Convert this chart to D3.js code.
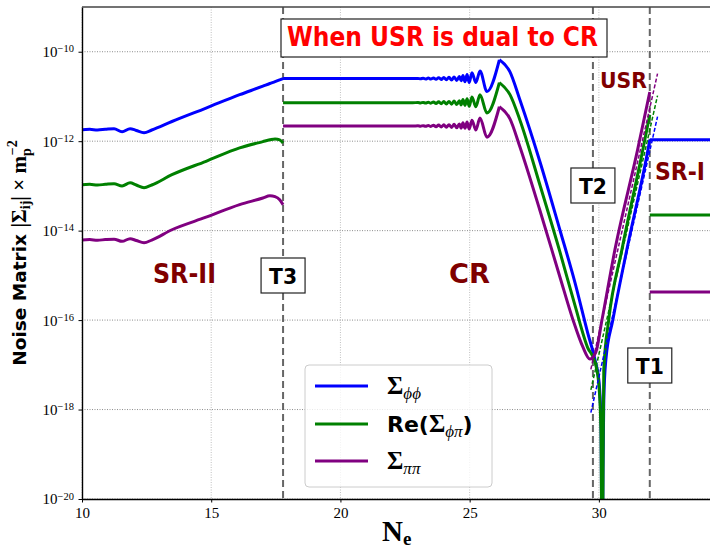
<!DOCTYPE html>
<html>
<head>
<meta charset="utf-8">
<script src="https://cdn.jsdelivr.net/npm/d3@7"></script>
<style>
  body { margin: 0; background: #fff; }
  .tick text { font-family: "Liberation Serif", serif; font-size: 15px; fill: #000; }
</style>
</head>
<body>
<div id="chart"></div>
<script>
// N_e values and log10 |Sigma|

// SR-II (before T3)
const srIIN       = [10, 10.3, 10.6, 10.9, 11.24, 11.55, 11.86, 12.1, 12.4, 12.7, 13.48, 14.8, 16.1, 17.0, 17.27, 17.47, 17.65, 17.78];
const srIIPhiPhi  = [-11.745, -11.735, -11.75, -11.735, -11.72, -11.79, -11.72, -11.76, -11.81, -11.75, -11.56, -11.26, -10.96, -10.77, -10.71, -10.67, -10.63, -10.60];
const srIIRePhiPi = [-12.975, -12.965, -12.98, -12.965, -12.95, -13.0, -12.93, -12.98, -13.04, -12.98, -12.75, -12.45, -12.15, -12.01, -11.97, -11.95, -11.97, -12.04];
const srIIPiPi    = [-14.21, -14.2, -14.215, -14.2, -14.19, -14.24, -14.18, -14.22, -14.27, -14.21, -13.98, -13.7, -13.42, -13.27, -13.22, -13.24, -13.31, -13.42];

// CR plateau with the growing oscillations
const crN = [17.78, 20, 22.8, 23.0, 23.1, 23.2, 23.3, 23.4, 23.5, 23.6, 23.7, 23.8, 23.9, 24.0, 24.1, 24.2, 24.3, 24.4, 24.5, 24.6,
             24.67, 24.74, 24.82, 24.9, 24.98, 25.09, 25.24, 25.4, 25.67, 26.15];
const crPhiPhi  = [-10.60, -10.60, -10.60, -10.596, -10.605, -10.593, -10.608, -10.59, -10.61, -10.585, -10.617, -10.58, -10.622, -10.575, -10.628, -10.57, -10.634, -10.563, -10.642, -10.555,
                   -10.65, -10.53, -10.67, -10.51, -10.69, -10.47, -10.69, -10.43, -10.89, -10.18];
const crRePhiPi = [-11.14, -11.14, -11.14, -11.136, -11.145, -11.133, -11.148, -11.13, -11.15, -11.125, -11.157, -11.12, -11.162, -11.115, -11.168, -11.11, -11.174, -11.103, -11.182, -11.095,
                   -11.19, -11.07, -11.2, -11.05, -11.22, -11.01, -11.23, -10.96, -11.37, -10.69];
const crPiPi    = [-11.66, -11.66, -11.66, -11.656, -11.665, -11.653, -11.668, -11.65, -11.67, -11.645, -11.677, -11.64, -11.682, -11.635, -11.688, -11.63, -11.694, -11.623, -11.702, -11.615,
                   -11.71, -11.59, -11.71, -11.57, -11.73, -11.53, -11.75, -11.48, -11.91, -11.23];

// fall through T2 and rise in the USR up to T1
const phiPhiTailN  = [26.15, 26.56, 26.94, 27.72, 28.49, 29.07, 29.57, 29.85, 30.0, 30.08, 30.13, 30.16, 30.19, 30.27, 30.54, 31.08, 31.9, 31.97];
const phiPhiTail   = [-10.18, -10.45, -11.07, -12.46, -13.98, -15.15, -16.29, -16.89, -17.34, -18.23, -22, -19.3, -17.79, -16.89, -16.0, -14.43, -12.19, -11.97];
const rePhiPiTailN = [26.15, 26.56, 26.94, 27.72, 28.49, 29.07, 29.57, 29.85, 30.0, 30.08, 30.13, 30.16, 30.19, 30.38, 30.89, 31.7, 31.97];
const rePhiPiTail  = [-10.69, -10.96, -11.52, -12.98, -14.47, -15.66, -16.62, -16.94, -17.45, -18.46, -22, -19.5, -17.11, -16.0, -14.43, -12.19, -11.41];
const piPiTailN    = [26.15, 26.56, 26.94, 27.72, 28.49, 28.99, 29.38, 29.65, 29.88, 30.12, 30.62, 31.5, 31.97];
const piPiTail     = [-11.23, -11.5, -12.12, -13.55, -15.03, -15.98, -16.6, -16.87, -16.72, -16.0, -14.43, -12.19, -10.9];

// analytic USR estimates (thin dashed)
const dashN         = [29.69, 32.27];
const phiPhiDash    = [-18.07, -11.45];
const rePhiPiDash   = [-17.56, -10.98];
const piPiDash      = [-17.1, -10.49];

// SR-I (after T1)
const srIN       = [31.97, 34.3];
const srIPhiPhi  = [-11.97, -11.97];
const srIRePhiPi = [-13.65, -13.65];
const srIPiPi    = [-15.37, -15.37];

const transitions = [17.78, 29.77, 31.97]; // T3, T2, T1
const xTicks = [10, 15, 20, 25, 30];
const yTickExps = [-20, -18, -16, -14, -12, -10];

let margin = { top: 7, left: 82, right: 0, bottom: 51 },
    width = 710 - margin.left - margin.right,
    height = 550 - margin.top - margin.bottom;

let svg = d3.select("#chart")
  .append("svg")
    .attr("width", 710)
    .attr("height", 550);

let g = svg.append("g")
    .attr("transform", "translate(" + margin.left + "," + margin.top + ")");

let xScale = d3.scaleLinear().domain([10, 34.3]).range([0, width]);
let yScale = d3.scaleLog().domain([1e-20, 1e-9]).range([height, 0]);

g.append("clipPath").attr("id", "plot")
  .append("rect").attr("width", width).attr("height", height);

// grid
g.append("g").selectAll("line").data(xTicks).enter().append("line")
    .attr("x1", d => xScale(d)).attr("x2", d => xScale(d))
    .attr("y1", 0).attr("y2", height)
    .attr("stroke", "#b0b0b0").attr("stroke-width", 0.8).attr("stroke-dasharray", "1,1.5");
g.append("g").selectAll("line").data(yTickExps).enter().append("line")
    .attr("x1", 0).attr("x2", width)
    .attr("y1", d => yScale(Math.pow(10, d))).attr("y2", d => yScale(Math.pow(10, d)))
    .attr("stroke", "#707070").attr("stroke-width", 0.8).attr("stroke-dasharray", "1,1.5");

// transition lines
g.append("g").selectAll("line").data(transitions).enter().append("line")
    .attr("x1", d => xScale(d)).attr("x2", d => xScale(d))
    .attr("y1", 0).attr("y2", height)
    .attr("stroke", "#666").attr("stroke-width", 2).attr("stroke-dasharray", "7,4");

let line = d3.line()
    .x(d => xScale(d[0]))
    .y(d => yScale(Math.pow(10, d[1])))
    .curve(d3.curveMonotoneX);

let dashLine = d3.line()
    .x(d => xScale(d[0]))
    .y(d => yScale(Math.pow(10, d[1])));

let series = [
  { color: "#0000ff", parts: [[srIIN, srIIPhiPhi], [crN, crPhiPhi], [phiPhiTailN, phiPhiTail], [srIN, srIPhiPhi]], dash: phiPhiDash },
  { color: "#008000", parts: [[srIIN, srIIRePhiPi], [crN, crRePhiPi], [rePhiPiTailN, rePhiPiTail], [srIN, srIRePhiPi]], dash: rePhiPiDash },
  { color: "#800080", parts: [[srIIN, srIIPiPi], [crN, crPiPi], [piPiTailN, piPiTail], [srIN, srIPiPi]], dash: piPiDash }
];

let curves = g.append("g").attr("clip-path", "url(#plot)");
series.forEach(s => {
  s.parts.forEach(p => {
    curves.append("path")
        .datum(d3.zip(p[0], p[1]))
        .attr("d", line)
        .attr("fill", "none")
        .attr("stroke", s.color)
        .attr("stroke-width", 3);
  });
});
series.forEach(s => {
  curves.append("path")
      .datum(d3.zip(dashN, s.dash))
      .attr("d", dashLine)
      .attr("fill", "none")
      .attr("stroke", s.color)
      .attr("stroke-width", 1.5)
      .attr("stroke-dasharray", "4,2");
});

// axes
let xAxis = g.append("g")
    .attr("transform", "translate(0," + height + ")")
    .call(d3.axisBottom(xScale).tickValues(xTicks).tickSize(3.5).tickSizeOuter(0).tickPadding(5));
xAxis.select(".domain").attr("stroke", "#000").attr("stroke-width", 1.6);

let yAxis = g.append("g")
    .call(d3.axisLeft(yScale).tickValues(yTickExps.map(e => Math.pow(10, e))).tickSize(3.5).tickSizeOuter(0).tickPadding(4).tickFormat(""));
yAxis.select(".domain").attr("stroke", "#000").attr("stroke-width", 1.4);
yAxis.selectAll(".tick").each(function(d) {
  let t = d3.select(this).append("text")
      .attr("x", -8).attr("dy", "0.33em").attr("text-anchor", "end");
  t.append("tspan").text("10");
  t.append("tspan").attr("dy", "-0.45em").attr("font-size", "10.5px").text("\u2212" + (-Math.round(Math.log10(d))));
});

// top spine
g.append("line").attr("x1", 0).attr("x2", width).attr("y1", 0).attr("y2", 0)
    .attr("stroke", "#444").attr("stroke-width", 1.6);

// region and transition labels
function label(txt, x, y, len, size, color) {
  return svg.append("text")
      .attr("x", x).attr("y", y)
      .attr("textLength", len).attr("lengthAdjust", "spacingAndGlyphs")
      .attr("font-family", "DejaVu Sans").attr("font-weight", "bold")
      .attr("font-size", size).attr("fill", color)
      .text(txt);
}
label("SR-II", 153, 283, 63, 26, "#7f0000");
label("CR", 449, 283, 41, 26, "#7f0000");
label("USR", 600, 88, 47, 22, "#7f0000");
label("SR-I", 655, 180, 50, 24, "#7f0000");

// title box
svg.append("rect").attr("x", 281).attr("y", 19).attr("width", 326).attr("height", 38)
    .attr("fill", "#fff").attr("stroke", "#222").attr("stroke-width", 1.2);
label("When USR is dual to CR", 287, 46, 311, 26, "#ff0000");

// T boxes sit on the transition lines
let tBoxes = [["T3", transitions[0], 258], ["T2", transitions[1], 168], ["T1", transitions[2], 348]];
tBoxes.forEach(b => {
  let cx = margin.left + xScale(b[1]);
  svg.append("rect").attr("x", cx - 22).attr("y", b[2]).attr("width", 44).attr("height", 35)
      .attr("fill", "#fff").attr("stroke", "#222").attr("stroke-width", 1.2);
  label(b[0], cx - 14, b[2] + 26, 28, 22, "#000");
});

// legend
let legend = svg.append("g");
legend.append("rect").attr("x", 305).attr("y", 365).attr("width", 187).attr("height", 122).attr("rx", 4)
    .attr("fill", "#fff").attr("fill-opacity", 0.8).attr("stroke", "#cccccc");
let legendRows = [
  { color: "#0000ff", y: 386, pre: "", sub: "\u03d5\u03d5", post: "" },
  { color: "#008000", y: 424, pre: "Re(", sub: "\u03d5\u03c0", post: ")" },
  { color: "#800080", y: 461, pre: "", sub: "\u03c0\u03c0", post: "" }
];
legendRows.forEach(r => {
  legend.append("line").attr("x1", 315).attr("x2", 368).attr("y1", r.y).attr("y2", r.y)
      .attr("stroke", r.color).attr("stroke-width", 3);
  let t = legend.append("text").attr("x", 387).attr("y", r.y + 8);
  if (r.pre) t.append("tspan").attr("font-family", "DejaVu Sans").attr("font-weight", "bold").attr("font-size", 22).text(r.pre);
  t.append("tspan").attr("font-family", "Liberation Serif").attr("font-weight", "bold").attr("font-size", 25).text("\u03a3");
  t.append("tspan").attr("font-family", "Liberation Serif").attr("font-style", "italic").attr("font-size", 17).attr("dy", 5).text(r.sub);
  if (r.post) t.append("tspan").attr("font-family", "DejaVu Sans").attr("font-weight", "bold").attr("font-size", 22).attr("dy", -5).text(r.post);
});

// axis titles
let xl = svg.append("text").attr("x", 382).attr("y", 541)
    .attr("font-family", "Liberation Serif").attr("font-weight", "bold").attr("font-size", 29);
xl.append("tspan").text("N");
xl.append("tspan").attr("font-size", 19).attr("dy", 4).text("e");

let yl = svg.append("text").attr("transform", "translate(26,253) rotate(-90)")
    .attr("text-anchor", "middle").attr("font-weight", "bold");
yl.append("tspan").attr("font-family", "DejaVu Sans").attr("font-size", 18.5).text("Noise Matrix ");
yl.append("tspan").attr("font-family", "Liberation Serif").attr("font-size", 21).text("|\u03a3");
yl.append("tspan").attr("font-family", "Liberation Serif").attr("font-size", 14).attr("dy", 4).text("ij");
yl.append("tspan").attr("font-family", "Liberation Serif").attr("font-size", 21).attr("dy", -4).text("| \u00d7 m");
yl.append("tspan").attr("font-family", "Liberation Serif").attr("font-size", 14).attr("dy", 5).text("p");
yl.append("tspan").attr("font-family", "Liberation Serif").attr("font-size", 14).attr("dx", -7).attr("dy", -14).text("\u22122");
</script>
</body>
</html>
